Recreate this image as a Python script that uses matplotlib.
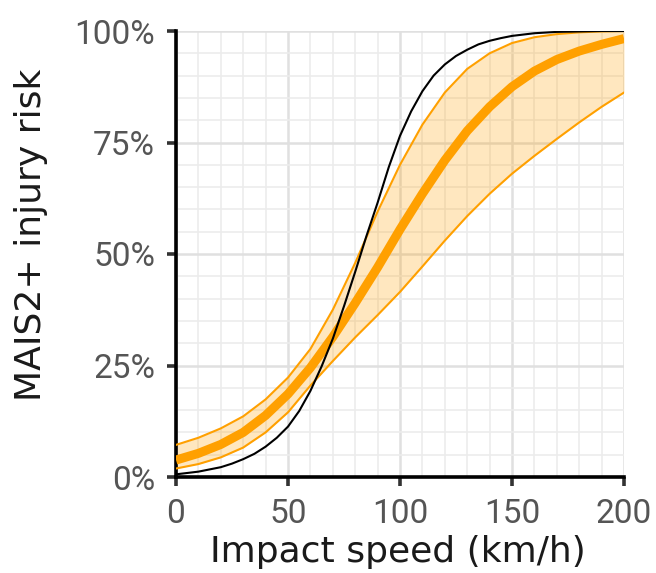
import matplotlib
matplotlib.use("Agg")
import matplotlib.pyplot as plt
from matplotlib.ticker import MultipleLocator, FuncFormatter

# Band curves read every 10 km/h
speed_band = [0, 10, 20, 30, 40, 50, 60, 70, 80, 90, 100,
              110, 120, 130, 140, 150, 160, 170, 180, 190, 200]
risk_mean = [3.8, 5.3, 7.3, 10.0, 13.8, 18.6, 24.5, 31.4, 39.0, 47.0, 55.5,
             63.5, 71.0, 77.6, 83.0, 87.5, 91.0, 93.6, 95.5, 97.0, 98.3]
risk_upper = [7.2, 8.8, 10.9, 13.6, 17.4, 22.3, 28.7, 37.5, 48.0, 59.5, 70.0,
              79.0, 86.2, 91.5, 95.0, 97.3, 98.6, 99.3, 99.7, 99.9, 100.0]
risk_lower = [1.9, 2.9, 4.4, 6.6, 10.0, 14.5, 20.5, 26.0, 31.3, 36.3, 41.5,
              47.2, 53.0, 58.5, 63.5, 68.0, 72.0, 75.8, 79.5, 83.0, 86.2]

# Black reference curve read every 5 km/h
speed_ref = [0, 5, 10, 15, 20, 25, 30, 35, 40, 45, 50, 55, 60, 65, 70, 75, 80,
             85, 90, 95, 100, 105, 110, 115, 120, 125, 130, 135, 140, 145, 150,
             155, 160, 170, 180, 190, 200]
risk_ref = [0.6, 0.9, 1.2, 1.7, 2.2, 3.0, 4.0, 5.2, 6.8, 8.8, 11.3, 14.8, 19.3,
            24.8, 31.0, 38.3, 46.0, 54.0, 61.5, 69.5, 76.5, 82.0, 86.5, 90.0,
            92.5, 94.4, 95.8, 97.0, 97.8, 98.4, 98.9, 99.2, 99.5, 99.8, 99.9,
            100.0, 100.0]

x_ticks = [0, 50, 100, 150, 200]
y_ticks = [0, 25, 50, 75, 100]

plt.rcParams['font.family'] = ['Roboto', 'DejaVu Sans']

fig = plt.figure(figsize=(6.56, 5.73), dpi=100)
ax = fig.add_axes([176/656, 1 - 477/573, (624-176)/656, (477-31)/573])

orange = '#FFA000'
ax.fill_between(speed_band, risk_lower, risk_upper, color='#FFA000', alpha=0.25,
                linewidth=0, zorder=2)
ax.plot(speed_band, risk_upper, color=orange, lw=1.5, zorder=3)
ax.plot(speed_band, risk_lower, color=orange, lw=1.5, zorder=3)
ax.plot(speed_band, risk_mean, color=orange, lw=6.5, zorder=4, solid_capstyle='butt')
ax.plot(speed_ref, risk_ref, color='black', lw=1.5, zorder=5)

ax.set_xlim(0, 200)
ax.set_ylim(0, 100)
ax.set_xticks(x_ticks)
ax.set_yticks(y_ticks)
ax.yaxis.set_major_formatter(FuncFormatter(lambda v, p: f"{int(v)}%"))
ax.xaxis.set_minor_locator(MultipleLocator(10))
ax.yaxis.set_minor_locator(MultipleLocator(5))

ax.grid(which='major', color='#e0e0e0', lw=1.8, zorder=0)
ax.grid(which='minor', color='#ececec', lw=1.2, zorder=0)
ax.set_axisbelow(True)

for s in ['top', 'right']:
    ax.spines[s].set_visible(False)
for s in ['left', 'bottom']:
    ax.spines[s].set_color('black')
    ax.spines[s].set_linewidth(2.6)

ax.tick_params(which='major', length=6.5, width=2.6, color='#333333',
               labelsize=24, labelcolor='#555555', pad=8.5)
ax.tick_params(which='minor', length=0)

ax.set_xlabel('Impact speed (km/h)', fontsize=26, color='#1a1a1a',
              family='DejaVu Sans', va='top', ha='center')
ax.set_ylabel('MAIS2+ injury risk', fontsize=26, color='#1a1a1a',
              family='DejaVu Sans')
ax.xaxis.set_label_coords((398 - 176) / 448, (477 - 535) / 446)
ax.yaxis.set_label_coords((48 - 176) / 448, (477 - 235) / 446)

fig.savefig('out.png', dpi=100)
